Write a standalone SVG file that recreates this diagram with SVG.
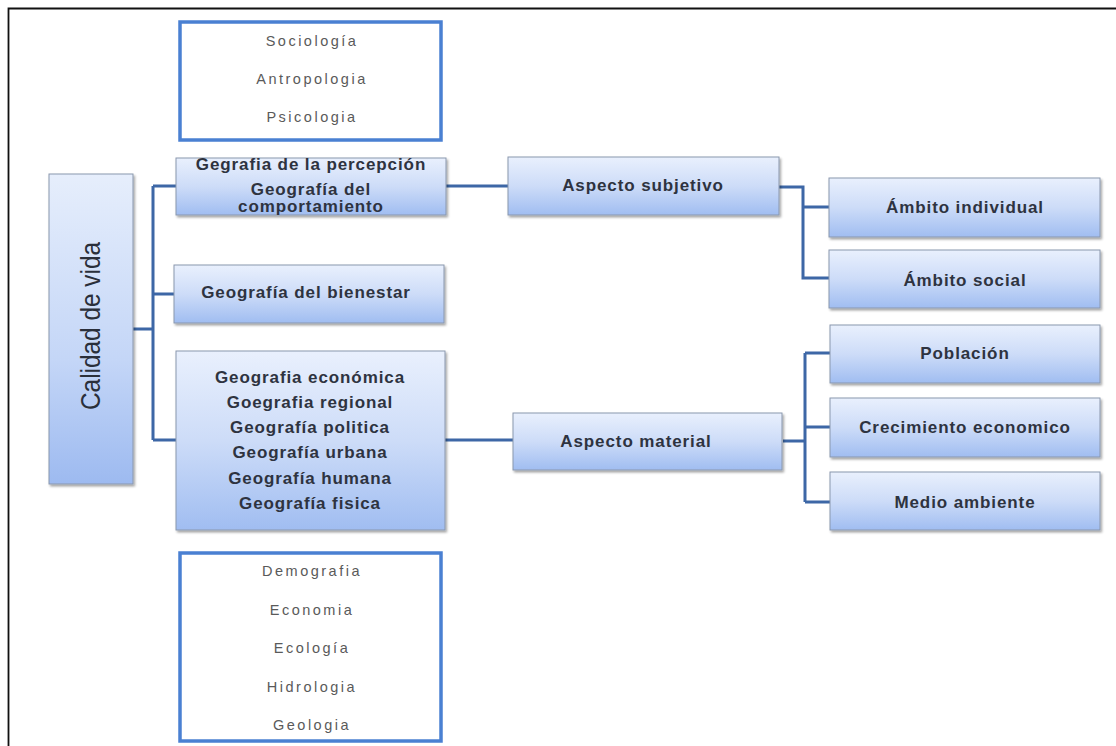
<svg xmlns="http://www.w3.org/2000/svg" width="1116" height="746" viewBox="0 0 1116 746">
<defs>
<linearGradient id="g" x1="0" y1="0" x2="0" y2="1">
<stop offset="0" stop-color="#e9f0fd"/>
<stop offset="0.5" stop-color="#cddcf8"/>
<stop offset="1" stop-color="#a0bdf1"/>
</linearGradient>
<linearGradient id="gv" x1="0" y1="0" x2="0" y2="1">
<stop offset="0" stop-color="#e6eefc"/>
<stop offset="0.6" stop-color="#c4d6f7"/>
<stop offset="1" stop-color="#9dbaf0"/>
</linearGradient>
<filter id="sh" x="-5%" y="-5%" width="115%" height="125%">
<feDropShadow dx="1.5" dy="2" stdDeviation="1" flood-color="#000" flood-opacity="0.35"/>
</filter>
</defs>
<style>
.box{fill:url(#g);stroke:#8a97ad;stroke-width:1;filter:url(#sh)}
.out{fill:#fff;stroke:#4a80d2;stroke-width:3.5}
.t{font-family:"Liberation Sans",Arial,sans-serif;font-weight:bold;font-size:17px;letter-spacing:0.9px;fill:#2e3340;text-anchor:middle}
.l{font-family:"Liberation Sans",Arial,sans-serif;font-size:14.5px;fill:#5a5a5a;text-anchor:middle;letter-spacing:2.5px}
.c{fill:none;stroke:#3d67a6;stroke-width:3}
</style>
<rect x="0" y="0" width="1116" height="746" fill="#fff"/>
<path d="M8.5 746 V8.5 H1116" fill="none" stroke="#111" stroke-width="1.8"/>

<g id="connectors">
<path class="c" d="M133 329 H153 M153 186 V440 M153 186 H176 M153 294 H174 M153 440 H176"/>
<path class="c" d="M446 186 H508"/>
<path class="c" d="M779 187 H803 V278 H829 M803 207 H829"/>
<path class="c" d="M445 440 H513"/>
<path class="c" d="M783 441 H805 M805 353 V502 M805 353 H830 M805 427 H830 M805 502 H830"/>
</g>

<g id="n-sociologia">
<rect class="out" x="180" y="22" width="261" height="118"/>
<text class="l" x="312" y="46">Sociología</text>
<text class="l" x="312" y="84">Antropologia</text>
<text class="l" x="312" y="122">Psicologia</text>
</g>

<g id="n-calidad">
<rect class="box" x="49" y="174" width="84" height="310" style="fill:url(#gv)"/>
<text transform="translate(100 326) rotate(-90)" x="0" y="0" font-family="'Liberation Sans',Arial,sans-serif" font-size="27" fill="#2a2f3a" text-anchor="middle" textLength="168" lengthAdjust="spacingAndGlyphs">Calidad de vida</text>
</g>

<g id="n-percepcion">
<rect class="box" x="176" y="158" width="270" height="57"/>
<text class="t" x="311" y="170">Gegrafia de la percepción</text>
<text class="t" x="311" y="195">Geografía del</text>
<text class="t" x="311" y="212">comportamiento</text>
</g>

<g id="n-bienestar">
<rect class="box" x="174" y="265" width="270" height="58"/>
<text class="t" x="306" y="298">Geografía del bienestar</text>
</g>

<g id="n-geografias">
<rect class="box" x="176" y="351" width="269" height="179"/>
<text class="t" x="310" y="383">Geografia económica</text>
<text class="t" x="310" y="408">Goegrafia regional</text>
<text class="t" x="310" y="433">Geografía politica</text>
<text class="t" x="310" y="458">Geografía urbana</text>
<text class="t" x="310" y="484">Geografía humana</text>
<text class="t" x="310" y="509">Geografía fisica</text>
</g>

<g id="n-demografia">
<rect class="out" x="180" y="553" width="261" height="188"/>
<text class="l" x="312" y="576">Demografia</text>
<text class="l" x="312" y="615">Economia</text>
<text class="l" x="312" y="653">Ecología</text>
<text class="l" x="312" y="692">Hidrologia</text>
<text class="l" x="312" y="730">Geologia</text>
</g>

<g id="n-subjetivo">
<rect class="box" x="508" y="157" width="271" height="58"/>
<text class="t" x="643" y="191">Aspecto subjetivo</text>
</g>

<g id="n-individual">
<rect class="box" x="829" y="178" width="271" height="59"/>
<text class="t" x="965" y="213">Ámbito individual</text>
</g>

<g id="n-social">
<rect class="box" x="829" y="250" width="271" height="58"/>
<text class="t" x="965" y="286">Ámbito social</text>
</g>

<g id="n-material">
<rect class="box" x="513" y="413" width="269" height="57"/>
<text class="t" x="636" y="447">Aspecto material</text>
</g>

<g id="n-poblacion">
<rect class="box" x="830" y="325" width="270" height="58"/>
<text class="t" x="965" y="359">Población</text>
</g>

<g id="n-crecimiento">
<rect class="box" x="830" y="398" width="270" height="59"/>
<text class="t" x="965" y="433">Crecimiento economico</text>
</g>

<g id="n-medio">
<rect class="box" x="830" y="472" width="270" height="58"/>
<text class="t" x="965" y="508">Medio ambiente</text>
</g>
</svg>
